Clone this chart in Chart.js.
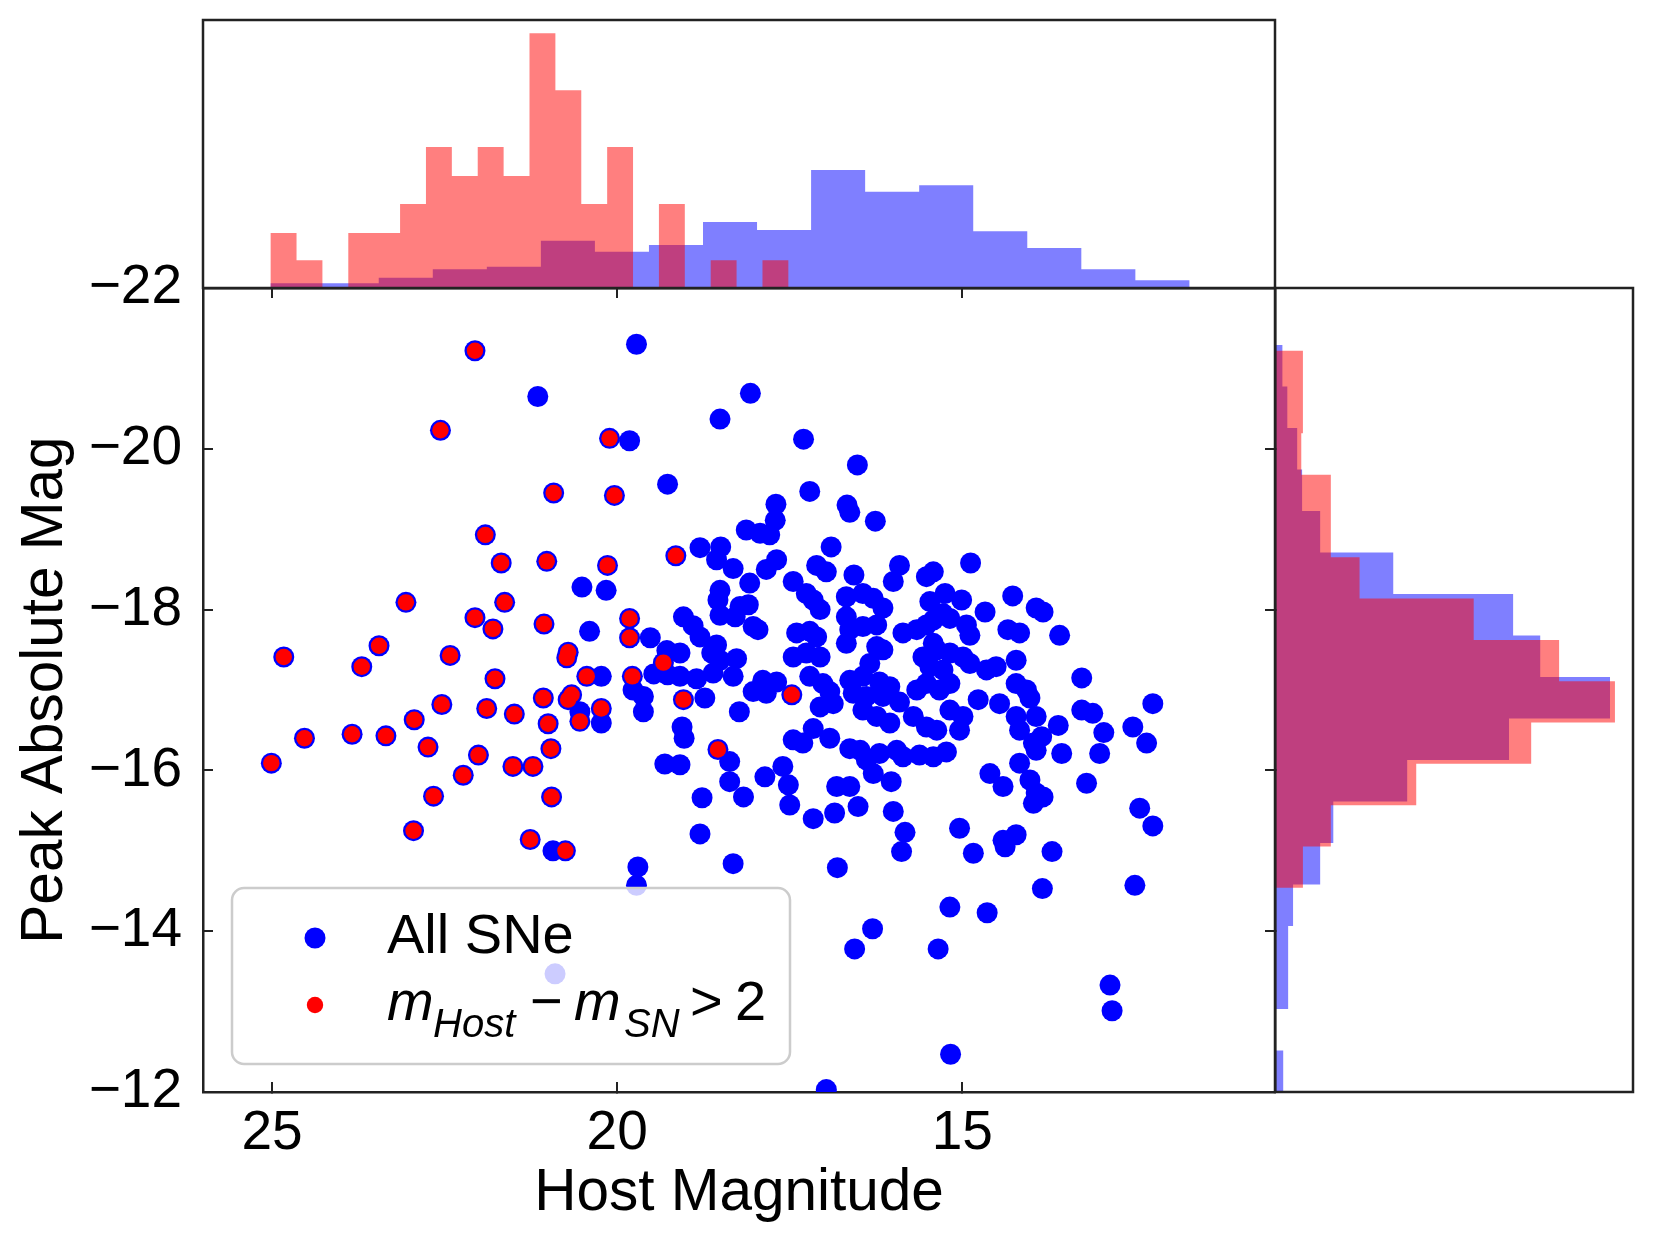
<!DOCTYPE html>
<html>
<head>
<meta charset="utf-8">
<script src="https://cdn.jsdelivr.net/npm/chart.js@4.4.1/dist/chart.umd.min.js"></script>
<style>
  html, body { margin: 0; padding: 0; background: #fff; }
  #wrap { position: relative; width: 1653px; height: 1243px; }
  #wrap canvas { position: absolute; left: 0; top: 0; }
</style>
</head>
<body>
<div id="wrap">
  <canvas id="topHist" width="1653" height="1243"></canvas>
  <canvas id="sideHist" width="1653" height="1243"></canvas>
  <canvas id="main" width="1653" height="1243"></canvas>
</div>
<script>
const xTicks = [25, 20, 15];
const yTicks = [-22, -20, -18, -16, -14, -12];
const hostLim = [10.47, 26.0];
const peakLim = [-22, -12];

// [host magnitude, peak absolute mag] for m_Host - m_SN > 2
const redSNe = [
  [22.06,-21.22],[22.56,-20.23],[20.11,-20.13],[20.92,-19.45],[20.04,-19.42],[21.91,-18.93],
  [21.68,-18.58],[21.02,-18.60],[20.14,-18.55],[19.15,-18.67],[23.06,-18.09],[21.63,-18.09],
  [22.06,-17.90],[21.80,-17.76],[21.06,-17.82],[19.82,-17.89],[19.82,-17.65],[19.33,-17.34],
  [24.83,-17.41],[23.45,-17.55],[23.70,-17.29],[22.42,-17.43],[20.71,-17.47],[20.73,-17.40],
  [21.77,-17.14],[20.44,-17.17],[19.78,-17.17],[22.54,-16.82],[21.89,-16.77],[21.49,-16.70],
  [21.07,-16.90],[20.66,-16.94],[20.71,-16.88],[20.23,-16.77],[20.54,-16.61],[21.00,-16.58],
  [19.04,-16.88],[22.94,-16.63],[24.53,-16.40],[23.84,-16.45],[23.35,-16.43],[22.74,-16.29],
  [22.01,-16.19],[20.96,-16.27],[25.01,-16.09],[22.23,-15.94],[21.51,-16.05],[21.22,-16.05],
  [22.66,-15.68],[20.95,-15.67],[22.95,-15.25],[21.26,-15.14],[20.75,-15.00],[17.47,-16.94],
  [18.54,-16.26]
];

// the rest of the SNe (all SNe = these + redSNe)
const blueSNe = [
  [19.72,-21.30],[21.15,-20.65],[19.82,-20.10],[19.27,-19.56],[20.51,-18.28],[20.16,-18.24],
  [20.40,-17.73],[19.52,-17.65],[19.28,-17.49],[19.09,-17.46],[19.04,-17.91],[18.90,-17.80],
  [20.23,-17.17],[19.47,-17.20],[19.27,-17.19],[19.09,-17.17],[18.85,-17.14],[18.07,-20.69],
  [18.51,-20.37],[17.30,-20.12],[16.52,-19.80],[17.21,-19.47],[17.70,-19.31],[16.67,-19.30],
  [16.63,-19.21],[17.71,-19.11],[16.26,-19.10],[18.13,-18.99],[17.93,-18.95],[17.79,-18.93],
  [18.80,-18.77],[18.50,-18.78],[18.56,-18.62],[18.32,-18.51],[16.90,-18.78],[17.69,-18.62],
  [17.84,-18.50],[17.11,-18.55],[16.97,-18.47],[16.57,-18.43],[15.91,-18.55],[16.00,-18.35],
  [15.42,-18.47],[15.52,-18.41],[14.88,-18.58],[18.08,-18.33],[17.45,-18.35],[18.51,-18.24],
  [18.54,-18.12],[18.22,-18.04],[18.10,-18.06],[17.26,-18.20],[17.16,-18.12],[17.06,-18.00],
  [16.68,-18.16],[16.44,-18.20],[16.29,-18.14],[16.15,-18.02],[16.68,-17.91],[15.25,-18.20],
  [15.01,-18.12],[15.47,-18.10],[14.67,-17.97],[14.27,-18.17],[13.93,-18.02],[13.83,-17.97],
  [18.51,-17.93],[18.29,-17.91],[18.03,-17.79],[17.96,-17.75],[15.28,-17.95],[15.18,-17.89],
  [18.80,-17.66],[18.56,-17.56],[17.40,-17.71],[17.21,-17.73],[17.11,-17.66],[16.63,-17.75],
  [16.44,-17.79],[16.24,-17.81],[16.68,-17.58],[15.86,-17.71],[15.66,-17.75],[15.52,-17.81],
  [15.42,-17.87],[14.89,-17.68],[14.94,-17.81],[14.34,-17.75],[14.17,-17.71],[13.59,-17.68],
  [16.24,-17.54],[16.15,-17.50],[15.42,-17.58],[17.45,-17.41],[17.26,-17.46],[17.06,-17.41],
  [18.63,-17.46],[18.51,-17.37],[18.27,-17.39],[16.34,-17.33],[15.57,-17.41],[15.37,-17.50],
  [15.18,-17.46],[14.99,-17.41],[14.89,-17.33],[14.22,-17.37],[14.51,-17.29],[14.65,-17.25],
  [18.61,-17.21],[18.32,-17.17],[17.89,-17.12],[17.69,-17.10],[17.84,-16.96],[18.03,-16.98],
  [18.73,-16.90],[17.21,-17.17],[17.02,-17.08],[16.92,-16.98],[16.63,-17.12],[16.44,-17.17],
  [16.20,-17.10],[16.05,-17.04],[16.58,-16.96],[16.39,-16.92],[16.15,-16.92],[15.91,-16.85],
  [15.66,-17.00],[15.52,-17.08],[15.33,-17.00],[15.18,-17.08],[15.47,-17.29],[15.28,-17.25],
  [14.77,-16.88],[14.46,-16.83],[14.22,-17.08],[14.07,-17.00],[13.27,-17.15],[12.24,-16.83],
  [13.27,-16.75],[13.11,-16.71],[14.02,-16.90],[18.23,-16.73],[17.06,-16.79],[16.87,-16.83],
  [16.44,-16.75],[16.24,-16.67],[16.05,-16.59],[15.71,-16.67],[15.52,-16.54],[15.37,-16.50],
  [15.18,-16.75],[14.99,-16.67],[15.04,-16.50],[14.22,-16.67],[14.17,-16.50],[13.93,-16.67],
  [13.61,-16.56],[12.95,-16.47],[12.53,-16.54],[12.33,-16.34],[19.06,-16.54],[19.03,-16.40],
  [17.16,-16.52],[16.92,-16.40],[17.45,-16.38],[17.31,-16.34],[13.97,-16.34],[13.85,-16.42],
  [13.56,-16.21],[13.01,-16.21],[18.37,-16.11],[19.31,-16.08],[19.09,-16.07],[16.63,-16.27],
  [16.48,-16.25],[16.39,-16.13],[16.20,-16.21],[15.95,-16.25],[15.86,-16.17],[15.62,-16.19],
  [15.42,-16.17],[15.23,-16.23],[14.17,-16.09],[13.93,-16.25],[18.37,-15.86],[17.86,-15.92],
  [17.60,-16.05],[17.52,-15.82],[16.29,-15.96],[16.03,-15.86],[14.60,-15.96],[14.41,-15.80],
  [14.02,-15.88],[13.93,-15.72],[13.83,-15.67],[13.20,-15.84],[18.17,-15.67],[18.77,-15.66],
  [16.82,-15.80],[16.63,-15.80],[16.51,-15.55],[17.50,-15.57],[16.85,-15.47],[17.16,-15.40],
  [16.00,-15.49],[13.97,-15.59],[12.43,-15.53],[12.24,-15.31],[15.04,-15.28],[18.80,-15.21],
  [15.83,-15.23],[14.22,-15.20],[14.41,-15.13],[12.50,-14.57],[18.32,-14.84],[16.81,-14.79],
  [15.88,-14.99],[14.84,-14.97],[14.38,-15.05],[13.70,-14.99],[13.84,-14.53],[15.18,-14.30],
  [14.64,-14.23],[16.30,-14.03],[16.56,-13.78],[15.35,-13.78],[12.86,-13.33],[12.83,-13.01],
  [15.17,-12.47],[16.97,-12.03],[19.77,-17.00],[19.62,-16.92],[19.62,-16.73],[20.54,-16.73],
  [20.23,-16.59],[19.70,-14.80],[19.72,-14.57],[20.93,-15.00],[20.90,-13.47]
];

// histograms, density per bin; bins run evenly from first to last edge
const hostBinsRed = [25.02, 17.52];
const hostDensRed = [0.091,0.046,0,0.091,0.091,0.139,0.233,0.185,0.233,0.185,
                     0.421,0.327,0.139,0.233,0,0.139,0,0.046,0,0.046];
const hostBinsAll = [25.02, 11.71];
const hostDensAll = [0.008,0.008,0.017,0.031,0.035,0.078,0.060,0.071,0.109,0.096,
                     0.195,0.159,0.170,0.094,0.066,0.031,0.013];
const peakBinsRed = [-21.22, -14.54];
const peakDensRed = [0.034,0.034,0.032,0.068,0.068,0.103,0.242,0.346,0.414,0.312,0.172,0.068,0.034];
const peakBinsAll = [-21.29, -12.0];
const peakDensAll = [0.009,0.015,0.027,0.033,0.055,0.144,0.290,0.323,0.408,0.285,
                     0.161,0.071,0.055,0.022,0.016,0.016,0,0.010];

const fam = "'Liberation Sans', Arial, sans-serif";
Chart.defaults.font.family = fam;
Chart.defaults.color = '#000';

const axisColor = '#222';
const blue = '#0000ff';
const red = '#ff0000';

const toPts = arr => arr.map(p => ({x: p[0], y: p[1]}));
const fmt = v => v < 0 ? '\u2212' + Math.abs(v) : String(v);

// outline of a histogram as a closed polygon
function histShape(range, dens, alongX) {
  const n = dens.length;
  const w = (range[1] - range[0]) / n;
  const at = (e, d) => alongX ? {x: e, y: d} : {x: d, y: e};
  const pts = [at(range[0], 0)];
  dens.forEach((d, i) => {
    pts.push(at(range[0] + i * w, d));
    pts.push(at(range[0] + (i + 1) * w, d));
  });
  pts.push(at(range[1], 0));
  return pts;
}

const frame = {
  id: 'frame',
  afterDraw(chart) {
    const a = chart.chartArea, c = chart.ctx;
    c.save();
    c.lineWidth = 2.5;
    c.strokeStyle = axisColor;
    c.strokeRect(a.left, a.top, a.right - a.left, a.bottom - a.top);
    c.restore();
  }
};

const snLegend = {
  id: 'snLegend',
  afterDraw(chart) {
    const c = chart.ctx;
    const x = 232, y = 888, w = 558, h = 176, r = 12;
    c.save();
    c.beginPath();
    c.moveTo(x + r, y);
    c.arcTo(x + w, y, x + w, y + h, r);
    c.arcTo(x + w, y + h, x, y + h, r);
    c.arcTo(x, y + h, x, y, r);
    c.arcTo(x, y, x + w, y, r);
    c.closePath();
    c.fillStyle = 'rgba(255,255,255,0.8)';
    c.fill();
    c.lineWidth = 2.5;
    c.strokeStyle = '#cccccc';
    c.stroke();

    c.fillStyle = blue;
    c.beginPath(); c.arc(315, 938, 10.5, 0, Math.PI * 2); c.fill();
    c.fillStyle = red;
    c.beginPath(); c.arc(315, 1005, 8.2, 0, Math.PI * 2); c.fill();

    c.fillStyle = '#000';
    c.textBaseline = 'alphabetic';
    c.font = '56px ' + fam;
    c.fillText('All SNe', 387, 953);
    c.font = 'italic 56px ' + fam;
    c.fillText('m', 387, 1020);
    c.font = 'italic 40px ' + fam;
    c.fillText('Host', 433, 1037);
    c.font = '56px ' + fam;
    c.fillText('\u2212', 530, 1020);
    c.font = 'italic 56px ' + fam;
    c.fillText('m', 574, 1020);
    c.font = 'italic 40px ' + fam;
    c.fillText('SN', 624, 1037);
    c.font = '56px ' + fam;
    c.fillText('>', 690, 1020);
    c.fillText('2', 735, 1020);
    c.restore();
  }
};

const tickGrid = { drawOnChartArea: false, tickLength: -10, tickWidth: 2, tickColor: axisColor, lineWidth: 2 };
const border = { color: axisColor, width: 2.5 };

new Chart(document.getElementById('topHist'), {
  type: 'scatter',
  data: {
    datasets: [
      { data: histShape(hostBinsRed, hostDensRed, true), showLine: true, fill: 'shape',
        backgroundColor: 'rgba(255,0,0,0.5)', borderWidth: 0, pointRadius: 0 },
      { data: histShape(hostBinsAll, hostDensAll, true), showLine: true, fill: 'shape',
        backgroundColor: 'rgba(0,0,255,0.5)', borderWidth: 0, pointRadius: 0 }
    ]
  },
  options: {
    responsive: false, animation: false, events: [],
    layout: { padding: { left: 203, top: 20, right: 378, bottom: 955 } },
    plugins: { legend: { display: false }, tooltip: { enabled: false } },
    scales: {
      x: { display: false, type: 'linear', min: hostLim[0], max: hostLim[1], reverse: true },
      y: { display: false, type: 'linear', min: 0, max: 0.443 }
    }
  },
  plugins: [frame]
});

new Chart(document.getElementById('sideHist'), {
  type: 'scatter',
  data: {
    datasets: [
      { data: histShape(peakBinsRed, peakDensRed, false), showLine: true, fill: 'shape',
        backgroundColor: 'rgba(255,0,0,0.5)', borderWidth: 0, pointRadius: 0 },
      { data: histShape(peakBinsAll, peakDensAll, false), showLine: true, fill: 'shape',
        backgroundColor: 'rgba(0,0,255,0.5)', borderWidth: 0, pointRadius: 0 }
    ]
  },
  options: {
    responsive: false, animation: false, events: [],
    layout: { padding: { left: 1275, top: 288, right: 20, bottom: 151 } },
    plugins: { legend: { display: false }, tooltip: { enabled: false } },
    scales: {
      x: { display: false, type: 'linear', min: 0, max: 0.436 },
      y: { display: false, type: 'linear', min: peakLim[0], max: peakLim[1], reverse: true }
    }
  },
  plugins: [frame]
});

new Chart(document.getElementById('main'), {
  type: 'scatter',
  data: {
    datasets: [
      { label: 'mHost - mSN > 2', data: toPts(redSNe), backgroundColor: red,
        borderWidth: 0, pointRadius: 8.2, clip: 0 },
      { label: 'All SNe', data: toPts(blueSNe.concat(redSNe)), backgroundColor: blue,
        borderWidth: 0, pointRadius: 10.5, clip: 0 }
    ]
  },
  options: {
    responsive: false, animation: false, events: [],
    layout: { padding: { left: 0, top: 288, right: 378, bottom: 0 } },
    plugins: { legend: { display: false }, tooltip: { enabled: false } },
    scales: {
      x: {
        type: 'linear', position: 'bottom', min: hostLim[0], max: hostLim[1], reverse: true,
        afterFit: s => { s.height = 151; },
        afterBuildTicks: s => { s.ticks = xTicks.map(v => ({ value: v })); },
        grid: tickGrid, border: border,
        ticks: { font: { size: 55 }, color: '#000', padding: 19, maxRotation: 0 },
        title: { display: true, text: 'Host Magnitude', font: { size: 58.5 }, color: '#000',
                 padding: { top: 0, bottom: 14 } }
      },
      x2: {
        type: 'linear', position: 'top', min: hostLim[0], max: hostLim[1], reverse: true,
        afterFit: s => { s.height = 0; },
        afterBuildTicks: s => { s.ticks = xTicks.map(v => ({ value: v })); },
        grid: tickGrid, border: border, ticks: { display: false }
      },
      y: {
        type: 'linear', position: 'left', min: peakLim[0], max: peakLim[1], reverse: true,
        afterFit: s => { s.width = 203; },
        afterBuildTicks: s => { s.ticks = yTicks.map(v => ({ value: v })); },
        grid: tickGrid, border: border,
        ticks: { font: { size: 55 }, color: '#000', padding: 31, callback: fmt },
        title: { display: true, text: 'Peak Absolute Mag', font: { size: 58.5 }, color: '#000',
                 padding: { top: 11, bottom: 0 } }
      },
      y2: {
        type: 'linear', position: 'right', min: peakLim[0], max: peakLim[1], reverse: true,
        afterFit: s => { s.width = 0; },
        afterBuildTicks: s => { s.ticks = yTicks.map(v => ({ value: v })); },
        grid: tickGrid, border: border, ticks: { display: false }
      }
    }
  },
  plugins: [snLegend]
});
</script>
</body>
</html>
